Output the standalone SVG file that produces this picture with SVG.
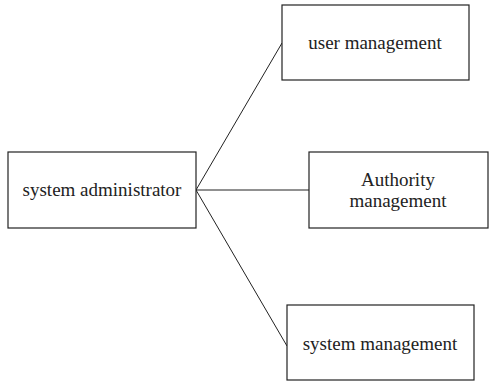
<svg xmlns="http://www.w3.org/2000/svg" width="490" height="382" viewBox="0 0 490 382">
<style>
rect{fill:#fff;stroke:#222;stroke-width:1.2}
text{font-family:"Liberation Serif","Times New Roman",serif;font-size:19px;fill:#222;text-anchor:middle}
line{stroke:#222;stroke-width:1}
</style>
<rect x="0" y="0" width="490" height="382" style="stroke:none"/>
<g id="connectors">
<line x1="196" y1="190" x2="282" y2="43"/>
<line x1="196" y1="190" x2="309" y2="190"/>
<line x1="196" y1="190" x2="287" y2="346"/>
</g>
<g id="sysadmin"><rect x="8" y="152" width="188" height="76"/><text x="102" y="196">system administrator</text></g>
<g id="usermgmt"><rect x="282" y="5" width="187" height="75"/><text x="375" y="49">user management</text></g>
<g id="authmgmt"><rect x="309" y="152" width="179" height="76"/><text x="398" y="186">Authority</text><text x="398" y="207">management</text></g>
<g id="sysmgmt"><rect x="287" y="305" width="187" height="75"/><text x="380" y="350">system management</text></g>
</svg>
